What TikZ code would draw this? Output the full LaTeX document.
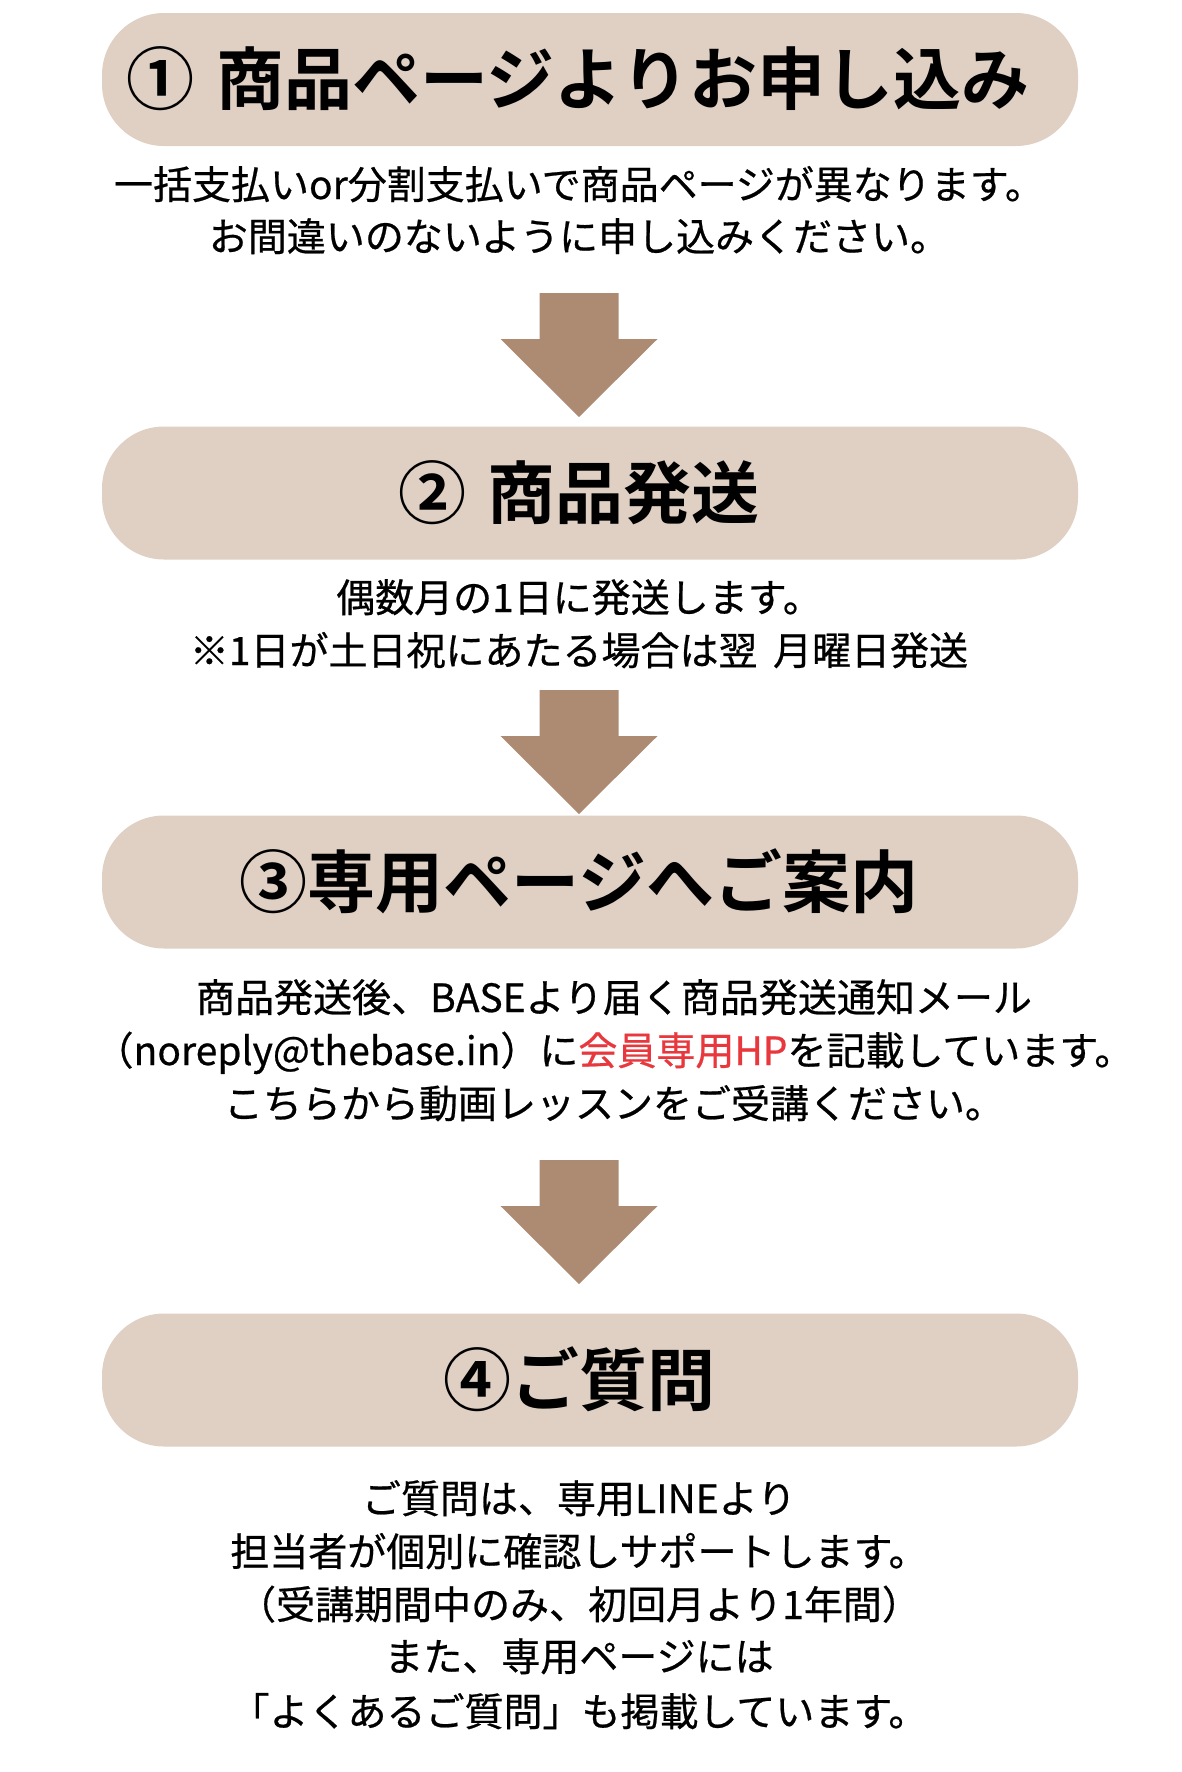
\documentclass[tikz,border=0pt]{standalone}
\usepackage{fontspec}
\setmainfont{Noto Sans CJK JP}
\newfontfamily\jpbody[FakeBold=0.6]{Noto Sans CJK JP}
\newfontfamily\jptitle{Noto Sans CJK JP Bold}
\definecolor{pillfill}{HTML}{DFD0C3}
\definecolor{arrowfill}{HTML}{AD8B73}
\definecolor{hlred}{HTML}{E8383D}
\tikzset{
  pill/.style={rectangle, rounded corners=62pt, fill=pillfill, draw=none,
    minimum width=976pt, minimum height=133pt, inner sep=0pt},
  titletext/.style={anchor=base, inner sep=0pt, text=black,
    font=\jptitle\fontsize{68}{68}\selectfont},
  bodytext/.style={anchor=base, inner sep=0pt, text=black,
    font=\jpbody\fontsize{39}{39}\selectfont},
  barrow/.pic={\fill[arrowfill] (-39.5,-124) -- (39.5,-124) -- (39.5,-78)
    -- (78.5,-78) -- (0,0) -- (-78.5,-78) -- (-39.5,-78) -- cycle;}
}
\begin{document}
\begin{tikzpicture}[x=1pt,y=-1pt]
\fill[white] (0,0) rectangle (1181,1772);
\useasboundingbox (0,0) rectangle (1181,1772);

% step 1
\node[pill] (p1) at (590,79.5) {};
\node[titletext] (t1) at (578,104) {①\hspace{0.32em}商品ページよりお申し込み};
\node[bodytext] (d1a) at (579,199) {一括支払いor分割支払いで商品ページが異なります。};
\node[bodytext] (d1b) at (579,251) {お間違いのないように申し込みください。};
\coordinate (a1) at (579,417);
\pic at (a1) {barrow};

% step 2
\node[pill] (p2) at (590,493) {};
\node[titletext] (t2) at (579,518) {②\hspace{0.3em}商品発送};
\node[bodytext] (d2a) at (579,612) {偶数月の1日に発送します。};
\node[bodytext] (d2b) at (579,665) {※1日が土日祝にあたる場合は翌\hspace{0.4em}月曜日発送};
\coordinate (a2) at (579,814);
\pic at (a2) {barrow};

% step 3
\node[pill] (p3) at (590,882) {};
\node[titletext] (t3) at (579,907) {③専用ページへご案内};
\node[bodytext] (d3a) at (614,1012) {商品発送後、BASEより届く商品発送通知メール};
\node[bodytext] (d3b) at (614,1065) {（noreply@thebase.in）に{\color{hlred}会員専用HP}を記載しています。};
\node[bodytext] (d3c) at (614,1118) {こちらから動画レッスンをご受講ください。};
\coordinate (a3) at (579,1284);
\pic at (a3) {barrow};

% step 4
\node[pill] (p4) at (590,1380) {};
\node[titletext] (t4) at (579,1405) {④ご質問};
\node[bodytext] (d4a) at (579,1513) {ご質問は、専用LINEより};
\node[bodytext] (d4b) at (579,1566) {担当者が個別に確認しサポートします。};
\node[bodytext] (d4c) at (579,1619) {（受講期間中のみ、初回月より1年間）};
\node[bodytext] (d4d) at (579,1671) {また、専用ページには};
\node[bodytext] (d4e) at (579,1726) {「よくあるご質問」も掲載しています。};
\end{tikzpicture}
\end{document}
